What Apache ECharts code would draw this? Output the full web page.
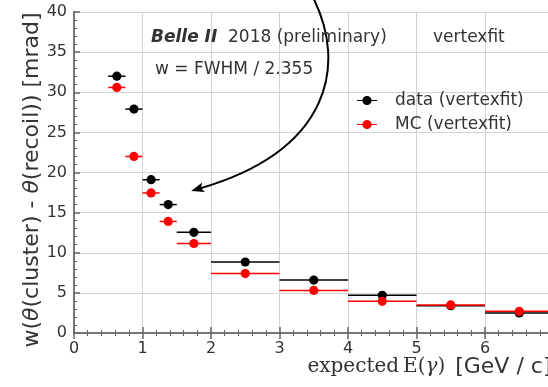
<!DOCTYPE html>
<html><head><meta charset="utf-8">
<script src="https://cdn.jsdelivr.net/npm/echarts@6/dist/echarts.min.js"></script>
<style>html,body{margin:0;padding:0;background:#fff}#c{width:548px;height:387px}</style>
</head><body><div id="c"></div>
<script>
// ---- data ----
const xCenters = [0.625, 0.875, 1.125, 1.375, 1.75, 2.5, 3.5, 4.5, 5.5, 6.5];
const binLow   = [0.5, 0.75, 1.0, 1.25, 1.5, 2, 3, 4, 5, 6];
const binHigh  = [0.75, 1.0, 1.25, 1.5, 2.0, 3, 4, 5, 6, 7];
const dataVals = [32.0, 27.9, 19.1, 16.0, 12.55, 8.85, 6.6, 4.7, 3.4, 2.5];
const mcVals   = [30.6, 22.0, 17.45, 13.9, 11.15, 7.4, 5.3, 3.95, 3.5, 2.7];
const xTicks = [0, 1, 2, 3, 4, 5, 6, 7];
const yTicks = [0, 5, 10, 15, 20, 25, 30, 35, 40];

const FONT = 'DejaVu Sans';
const TXT = '#333';
const chart = echarts.init(document.getElementById('c'), null, {renderer: 'canvas'});

function rows(vals) {
  return vals.map((v, i) => [xCenters[i], v, binLow[i], binHigh[i]]);
}
function errSeries(name, vals, color) {
  return {
    type: 'custom', name: name, data: rows(vals),
    encode: {x: 0, y: 1},
    itemStyle: {color: color},
    renderItem: function (params, api) {
      const p = api.coord([api.value(0), api.value(1)]);
      const a = api.coord([api.value(2), api.value(1)]);
      const b = api.coord([api.value(3), api.value(1)]);
      return {type: 'group', children: [
        {type: 'line', shape: {x1: a[0], y1: a[1], x2: b[0], y2: b[1]}, style: {stroke: color, lineWidth: 1.5}},
        {type: 'circle', shape: {cx: p[0], cy: p[1], r: 4.6}, style: {fill: color}}
      ]};
    },
    z: 5
  };
}
const legendIcon = 'path://M0,4.4L20,4.4L20,5.6L0,5.6Z M10,0.4A4.6,4.6 0 1 1 10,9.6A4.6,4.6 0 1 1 10,0.4Z';

const axisLine = {show: true, lineStyle: {color: '#777', width: 2}};
const gridLine = {show: true, lineStyle: {color: '#d3d3d3', width: 1}};
const tickStyle = {show: true, inside: true, length: 6, lineStyle: {color: '#666', width: 1.5}};
const minorStyle = {show: true, splitNumber: 5, length: 3, lineStyle: {color: '#666', width: 1}};

const option = {
  animation: false,
  grid: {left: 74, top: 12, width: 479.5, height: 321, containLabel: false, outerBoundsMode: 'none'},
  xAxis: [{
    type: 'value', min: 0, max: 7, interval: 1, position: 'bottom',
    axisLine: axisLine, axisTick: tickStyle, minorTick: minorStyle,
    splitLine: gridLine,
    axisLabel: {show: true, color: TXT, fontFamily: FONT, fontSize: 16, margin: 8,
      formatter: v => (xTicks.indexOf(v) >= 0 && v < 7 ? String(v) : '')},
    name: '{s|expected\u2009E(}{g|γ}{s|)\u2002}{t|[GeV / c]}',
    nameLocation: 'end', nameGap: 0, nameMoveOverlap: false,
    nameTextStyle: {align: 'right', verticalAlign: 'top', padding: [23, 2, 0, 0],
      rich: {
        s: {fontFamily: 'DejaVu Serif', fontSize: 20, color: TXT},
        g: {fontFamily: 'DejaVu Serif', fontStyle: 'italic', fontSize: 20, color: TXT},
        t: {fontFamily: FONT, fontSize: 22, color: TXT}
      }}
  }, {
    type: 'value', min: 0, max: 7, interval: 1, position: 'top',
    axisLine: axisLine, axisTick: tickStyle, minorTick: minorStyle,
    splitLine: {show: false}, axisLabel: {show: false}
  }],
  yAxis: [{
    type: 'value', min: 0, max: 40, interval: 5, position: 'left',
    axisLine: axisLine, axisTick: tickStyle, minorTick: minorStyle,
    splitLine: gridLine,
    axisLabel: {show: true, color: TXT, fontFamily: FONT, fontSize: 16, margin: 7,
      formatter: v => (yTicks.indexOf(v) >= 0 ? String(v) : '')},
    name: '{n|w(}{i|θ}{n|(cluster) - }{i|θ}{n|(recoil)) [mrad]}',
    nameLocation: 'middle', nameGap: 31, nameRotate: 90, nameMoveOverlap: false,
    nameTextStyle: {padding: [0, 15, 0, 0], rich: {
      n: {fontFamily: FONT, fontSize: 22, color: TXT},
      i: {fontFamily: FONT, fontStyle: 'italic', fontSize: 22, color: TXT}
    }}
  }, {
    type: 'value', min: 0, max: 40, interval: 5, position: 'right',
    axisLine: axisLine, axisTick: {show: false}, splitLine: {show: false}, axisLabel: {show: false}
  }],
  legend: {
    orient: 'vertical', left: 352, top: 87, itemWidth: 20, itemHeight: 10, itemGap: 7,
    textStyle: {fontFamily: FONT, fontSize: 17, color: TXT, lineHeight: 14, padding: [0, 0, 0, 13]},
    data: [
      {name: 'data (vertexfit)', icon: legendIcon, itemStyle: {color: '#000'}},
      {name: 'MC (vertexfit)', icon: legendIcon, itemStyle: {color: '#ff0000'}}
    ]
  },
  series: [
    errSeries('data (vertexfit)', dataVals, '#000'),
    errSeries('MC (vertexfit)', mcVals, '#ff0000')
  ]
};
chart.setOption(option);

// annotations (text + arrow), anchored in data space
const toPx = (x, y) => chart.convertToPixel({gridIndex: 0}, [x, y]);
const p0 = toPx(3.49, 41.8), p1 = toPx(3.98, 33.5), p2 = toPx(3.76, 22.8), p3 = toPx(1.71, 17.7);
const dx = p3[0] - p2[0], dy = p3[1] - p2[1], L = Math.hypot(dx, dy);
const ux = dx / L, uy = dy / L, hl = 13, hw = 5;
const tip = p3, base = [tip[0] - ux * hl, tip[1] - uy * hl];
const textStyleBase = {fill: TXT, fontFamily: FONT, fontSize: 17, textVerticalAlign: 'middle'};
chart.setOption({
  graphic: [
    {type: 'bezierCurve', shape: {x1: p0[0], y1: p0[1], cpx1: p1[0], cpy1: p1[1], cpx2: p2[0], cpy2: p2[1],
      x2: base[0] + ux * 4, y2: base[1] + uy * 4}, style: {stroke: '#000', lineWidth: 2, fill: null}, z: 10},
    {type: 'polygon', shape: {points: [tip, [base[0] - uy * hw, base[1] + ux * hw], [base[0] + ux * 3, base[1] + uy * 3], [base[0] + uy * hw, base[1] - ux * hw]]},
      style: {fill: '#000'}, z: 10},
    {type: 'text', left: 151, top: 29, style: Object.assign({}, textStyleBase, {text: 'Belle II', fontWeight: 'bold', fontStyle: 'italic', textVerticalAlign: 'top'}), z: 10},
    {type: 'text', left: 228, top: 29, style: Object.assign({}, textStyleBase, {text: '2018 (preliminary)', textVerticalAlign: 'top'}), z: 10},
    {type: 'text', left: 433, top: 29, style: Object.assign({}, textStyleBase, {text: 'vertexfit', textVerticalAlign: 'top'}), z: 10},
    {type: 'text', left: 155, top: 61, style: Object.assign({}, textStyleBase, {text: 'w = FWHM / 2.355', textVerticalAlign: 'top'}), z: 10}
  ]
});
</script></body></html>
